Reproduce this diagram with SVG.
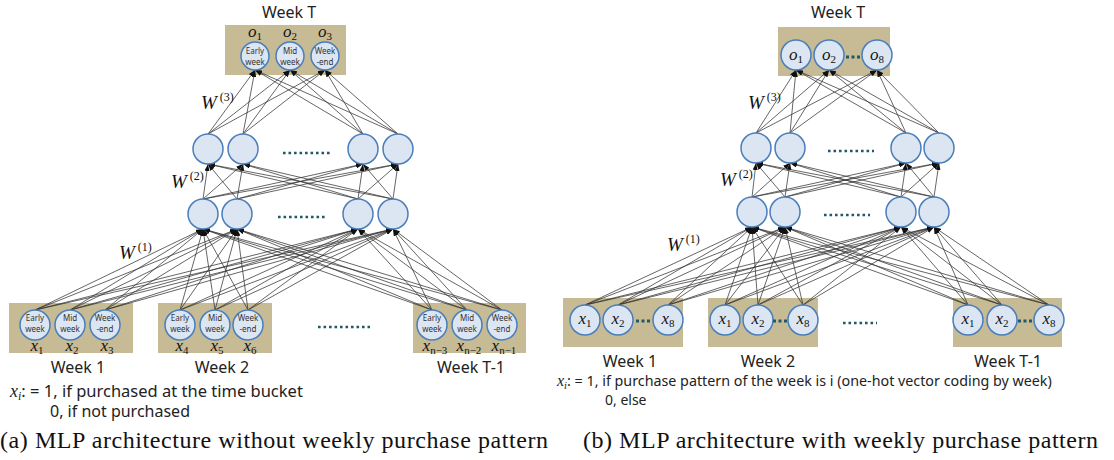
<svg xmlns="http://www.w3.org/2000/svg" width="1114" height="460" viewBox="0 0 1114 460">
  <defs>
    <marker id="ah" markerUnits="userSpaceOnUse" markerWidth="7" markerHeight="5" refX="7" refY="2.5" orient="auto">
      <path d="M0,0 L7,2.5 L0,5 z" fill="#111"/>
    </marker>
    <style>
      .box { fill: #C6BB94; }
      .node { fill: #DCE6F2; stroke: #4A7EBB; stroke-width: 1.5; }
      .edges line { stroke: #333; stroke-width: 0.75; marker-end: url(#ah); }
      .lbl { font-family: "Noto Sans", "Liberation Sans", sans-serif; font-size: 16px; fill: #222; }
      .note { font-family: "Noto Sans", "Liberation Sans", sans-serif; fill: #222; }
      .tiny { font-family: "Noto Sans", "Liberation Sans", sans-serif; font-size: 8px; fill: #333; text-anchor: middle; }
      .math { font-family: "Liberation Serif", "DejaVu Serif", serif; font-style: italic; font-size: 17px; fill: #111; text-anchor: middle; }
      .sub { font-size: 11px; font-style: normal; }
      .w { font-family: "Liberation Serif", "DejaVu Serif", serif; font-style: italic; font-size: 19px; fill: #111; }
      .wsup { font-size: 12px; font-style: normal; }
      .cap { font-family: "Liberation Serif", "DejaVu Serif", serif; font-size: 24px; fill: #111; }
      .dots { stroke: #215968; stroke-width: 2.6; stroke-dasharray: 2.6 2.9; fill: none; }
      .dots3 { stroke: #215968; stroke-width: 3; stroke-dasharray: 3 2.5; fill: none; }
    </style>
  </defs>
  <rect width="1114" height="460" fill="#fff"/>

  <!-- ===== (a) without weekly purchase pattern ===== -->
  <g id="a-boxes">
    <rect class="box" x="225" y="25" width="121" height="50"/>
    <rect class="box" x="9" y="303" width="124" height="50"/>
    <rect class="box" x="158" y="303" width="114" height="50"/>
    <rect class="box" x="413" y="303" width="113" height="50"/>
  </g>

  <g id="a-connectors" class="edges">
    <!-- input layer to hidden layer 1 -->
    <line x1="35" y1="310" x2="203" y2="229"/><line x1="35" y1="310" x2="237" y2="229"/><line x1="35" y1="310" x2="358" y2="229"/><line x1="35" y1="310" x2="393" y2="229"/>
    <line x1="70" y1="310" x2="203" y2="229"/><line x1="70" y1="310" x2="237" y2="229"/><line x1="70" y1="310" x2="358" y2="229"/><line x1="70" y1="310" x2="393" y2="229"/>
    <line x1="105" y1="310" x2="203" y2="229"/><line x1="105" y1="310" x2="237" y2="229"/><line x1="105" y1="310" x2="358" y2="229"/><line x1="105" y1="310" x2="393" y2="229"/>
    <line x1="180" y1="310" x2="203" y2="229"/><line x1="180" y1="310" x2="237" y2="229"/><line x1="180" y1="310" x2="358" y2="229"/><line x1="180" y1="310" x2="393" y2="229"/>
    <line x1="215" y1="310" x2="203" y2="229"/><line x1="215" y1="310" x2="237" y2="229"/><line x1="215" y1="310" x2="358" y2="229"/><line x1="215" y1="310" x2="393" y2="229"/>
    <line x1="248" y1="310" x2="203" y2="229"/><line x1="248" y1="310" x2="237" y2="229"/><line x1="248" y1="310" x2="358" y2="229"/><line x1="248" y1="310" x2="393" y2="229"/>
    <line x1="432" y1="310" x2="203" y2="229"/><line x1="432" y1="310" x2="237" y2="229"/><line x1="432" y1="310" x2="358" y2="229"/><line x1="432" y1="310" x2="393" y2="229"/>
    <line x1="467" y1="310" x2="203" y2="229"/><line x1="467" y1="310" x2="237" y2="229"/><line x1="467" y1="310" x2="358" y2="229"/><line x1="467" y1="310" x2="393" y2="229"/>
    <line x1="502" y1="310" x2="203" y2="229"/><line x1="502" y1="310" x2="237" y2="229"/><line x1="502" y1="310" x2="358" y2="229"/><line x1="502" y1="310" x2="393" y2="229"/>
    <!-- hidden layer 1 to hidden layer 2 -->
    <line x1="203" y1="199" x2="208" y2="164"/><line x1="203" y1="199" x2="243" y2="164"/><line x1="203" y1="199" x2="363" y2="164"/><line x1="203" y1="199" x2="398" y2="164"/>
    <line x1="237" y1="199" x2="208" y2="164"/><line x1="237" y1="199" x2="243" y2="164"/><line x1="237" y1="199" x2="363" y2="164"/><line x1="237" y1="199" x2="398" y2="164"/>
    <line x1="358" y1="199" x2="208" y2="164"/><line x1="358" y1="199" x2="243" y2="164"/><line x1="358" y1="199" x2="363" y2="164"/><line x1="358" y1="199" x2="398" y2="164"/>
    <line x1="393" y1="199" x2="208" y2="164"/><line x1="393" y1="199" x2="243" y2="164"/><line x1="393" y1="199" x2="363" y2="164"/><line x1="393" y1="199" x2="398" y2="164"/>
    <!-- hidden layer 2 to output -->
    <line x1="208" y1="134" x2="255" y2="70"/><line x1="208" y1="134" x2="290" y2="70"/><line x1="208" y1="134" x2="325" y2="70"/>
    <line x1="243" y1="134" x2="255" y2="70"/><line x1="243" y1="134" x2="290" y2="70"/><line x1="243" y1="134" x2="325" y2="70"/>
    <line x1="363" y1="134" x2="255" y2="70"/><line x1="363" y1="134" x2="290" y2="70"/><line x1="363" y1="134" x2="325" y2="70"/>
    <line x1="398" y1="134" x2="255" y2="70"/><line x1="398" y1="134" x2="290" y2="70"/><line x1="398" y1="134" x2="325" y2="70"/>
  </g>

  <g id="a-output">
    <text class="lbl" x="289" y="18" text-anchor="middle">Week T</text>
    <circle class="node" cx="255" cy="56" r="14"/>
    <circle class="node" cx="290" cy="56" r="14"/>
    <circle class="node" cx="325" cy="56" r="14"/>
    <text class="tiny"><tspan x="255" y="53.5">Early</tspan><tspan x="255" y="64.5">week</tspan></text>
    <text class="tiny"><tspan x="290" y="53.5">Mid</tspan><tspan x="290" y="64.5">week</tspan></text>
    <text class="tiny"><tspan x="325" y="53.5">Week</tspan><tspan x="325" y="64.5">-end</tspan></text>
    <text class="math" x="255" y="37">o<tspan class="sub" dy="3">1</tspan></text>
    <text class="math" x="290" y="37">o<tspan class="sub" dy="3">2</tspan></text>
    <text class="math" x="325" y="37">o<tspan class="sub" dy="3">3</tspan></text>
  </g>

  <g id="a-hidden2">
    <circle class="node" cx="208" cy="149" r="15"/>
    <circle class="node" cx="243" cy="149" r="15"/>
    <circle class="node" cx="363" cy="149" r="15"/>
    <circle class="node" cx="398" cy="149" r="15"/>
    <line class="dots" x1="283" y1="153" x2="330" y2="153"/>
  </g>

  <g id="a-hidden1">
    <circle class="node" cx="203" cy="214" r="15"/>
    <circle class="node" cx="237" cy="214" r="15"/>
    <circle class="node" cx="358" cy="214" r="15"/>
    <circle class="node" cx="393" cy="214" r="15"/>
    <line class="dots" x1="278" y1="217" x2="325" y2="217"/>
  </g>

  <g id="a-weights">
    <text class="w" x="201" y="109">W<tspan class="wsup" dy="-8" dx="3">(3)</tspan></text>
    <text class="w" x="171" y="188">W<tspan class="wsup" dy="-8" dx="3">(2)</tspan></text>
    <text class="w" x="119" y="259">W<tspan class="wsup" dy="-8" dx="3">(1)</tspan></text>
  </g>

  <g id="a-week1">
    <circle class="node" cx="35" cy="325" r="15"/>
    <circle class="node" cx="70" cy="325" r="15"/>
    <circle class="node" cx="105" cy="325" r="15"/>
    <text class="tiny"><tspan x="35" y="321">Early</tspan><tspan x="35" y="332">week</tspan></text>
    <text class="tiny"><tspan x="70" y="321">Mid</tspan><tspan x="70" y="332">week</tspan></text>
    <text class="tiny"><tspan x="105" y="321">Week</tspan><tspan x="105" y="332">-end</tspan></text>
    <text class="math" x="37" y="351">x<tspan class="sub" dy="3">1</tspan></text>
    <text class="math" x="72" y="351">x<tspan class="sub" dy="3">2</tspan></text>
    <text class="math" x="107" y="351">x<tspan class="sub" dy="3">3</tspan></text>
    <text class="lbl" x="78" y="373" text-anchor="middle">Week 1</text>
  </g>

  <g id="a-week2">
    <circle class="node" cx="180" cy="325" r="15"/>
    <circle class="node" cx="215" cy="325" r="15"/>
    <circle class="node" cx="248" cy="325" r="15"/>
    <text class="tiny"><tspan x="180" y="321">Early</tspan><tspan x="180" y="332">week</tspan></text>
    <text class="tiny"><tspan x="215" y="321">Mid</tspan><tspan x="215" y="332">week</tspan></text>
    <text class="tiny"><tspan x="248" y="321">Week</tspan><tspan x="248" y="332">-end</tspan></text>
    <text class="math" x="182" y="351">x<tspan class="sub" dy="3">4</tspan></text>
    <text class="math" x="217" y="351">x<tspan class="sub" dy="3">5</tspan></text>
    <text class="math" x="250" y="351">x<tspan class="sub" dy="3">6</tspan></text>
    <text class="lbl" x="222" y="373" text-anchor="middle">Week 2</text>
  </g>

  <line id="a-gap" class="dots" x1="318" y1="327" x2="370" y2="327"/>

  <g id="a-weekT1">
    <circle class="node" cx="432" cy="325" r="15"/>
    <circle class="node" cx="467" cy="325" r="15"/>
    <circle class="node" cx="502" cy="325" r="15"/>
    <text class="tiny"><tspan x="432" y="321">Early</tspan><tspan x="432" y="332">week</tspan></text>
    <text class="tiny"><tspan x="467" y="321">Mid</tspan><tspan x="467" y="332">week</tspan></text>
    <text class="tiny"><tspan x="502" y="321">Week</tspan><tspan x="502" y="332">-end</tspan></text>
    <text class="math" x="435" y="351">x<tspan class="sub" dy="3">n−3</tspan></text>
    <text class="math" x="469" y="351">x<tspan class="sub" dy="3">n−2</tspan></text>
    <text class="math" x="504" y="351">x<tspan class="sub" dy="3">n−1</tspan></text>
    <text class="lbl" x="471" y="373" text-anchor="middle">Week T-1</text>
  </g>

  <g id="a-note">
    <text class="note" x="10" y="397" font-size="16.5"><tspan font-family="Liberation Serif, serif" font-style="italic" font-size="18">x</tspan><tspan font-family="Liberation Serif, serif" font-style="italic" font-size="12" dy="3">i</tspan><tspan dy="-3">: = 1, if purchased at the time bucket</tspan></text>
    <text class="note" x="50" y="417" font-size="16">0, if not purchased</text>
  </g>

  <text id="a-caption" class="cap" x="0" y="448" textLength="548" lengthAdjust="spacing">(a) MLP architecture without weekly purchase pattern</text>

  <!-- ===== (b) with weekly purchase pattern ===== -->
  <g id="b-boxes">
    <rect class="box" x="778" y="27" width="112" height="49"/>
    <rect class="box" x="563" y="298" width="120" height="49"/>
    <rect class="box" x="708" y="298" width="110" height="49"/>
    <rect class="box" x="953" y="298" width="109" height="49"/>
  </g>

  <g id="b-connectors" class="edges">
    <!-- input layer to hidden layer 1 -->
    <line x1="585" y1="305" x2="752" y2="227"/><line x1="585" y1="305" x2="785" y2="227"/><line x1="585" y1="305" x2="901" y2="227"/><line x1="585" y1="305" x2="934" y2="227"/>
    <line x1="618" y1="305" x2="752" y2="227"/><line x1="618" y1="305" x2="785" y2="227"/><line x1="618" y1="305" x2="901" y2="227"/><line x1="618" y1="305" x2="934" y2="227"/>
    <line x1="668" y1="305" x2="752" y2="227"/><line x1="668" y1="305" x2="785" y2="227"/><line x1="668" y1="305" x2="901" y2="227"/><line x1="668" y1="305" x2="934" y2="227"/>
    <line x1="725" y1="305" x2="752" y2="227"/><line x1="725" y1="305" x2="785" y2="227"/><line x1="725" y1="305" x2="901" y2="227"/><line x1="725" y1="305" x2="934" y2="227"/>
    <line x1="758" y1="305" x2="752" y2="227"/><line x1="758" y1="305" x2="785" y2="227"/><line x1="758" y1="305" x2="901" y2="227"/><line x1="758" y1="305" x2="934" y2="227"/>
    <line x1="803" y1="305" x2="752" y2="227"/><line x1="803" y1="305" x2="785" y2="227"/><line x1="803" y1="305" x2="901" y2="227"/><line x1="803" y1="305" x2="934" y2="227"/>
    <line x1="968" y1="305" x2="752" y2="227"/><line x1="968" y1="305" x2="785" y2="227"/><line x1="968" y1="305" x2="901" y2="227"/><line x1="968" y1="305" x2="934" y2="227"/>
    <line x1="1002" y1="305" x2="752" y2="227"/><line x1="1002" y1="305" x2="785" y2="227"/><line x1="1002" y1="305" x2="901" y2="227"/><line x1="1002" y1="305" x2="934" y2="227"/>
    <line x1="1049" y1="305" x2="752" y2="227"/><line x1="1049" y1="305" x2="785" y2="227"/><line x1="1049" y1="305" x2="901" y2="227"/><line x1="1049" y1="305" x2="934" y2="227"/>
    <!-- hidden layer 1 to hidden layer 2 -->
    <line x1="752" y1="197" x2="756" y2="163"/><line x1="752" y1="197" x2="790" y2="163"/><line x1="752" y1="197" x2="906" y2="163"/><line x1="752" y1="197" x2="939" y2="163"/>
    <line x1="785" y1="197" x2="756" y2="163"/><line x1="785" y1="197" x2="790" y2="163"/><line x1="785" y1="197" x2="906" y2="163"/><line x1="785" y1="197" x2="939" y2="163"/>
    <line x1="901" y1="197" x2="756" y2="163"/><line x1="901" y1="197" x2="790" y2="163"/><line x1="901" y1="197" x2="906" y2="163"/><line x1="901" y1="197" x2="939" y2="163"/>
    <line x1="934" y1="197" x2="756" y2="163"/><line x1="934" y1="197" x2="790" y2="163"/><line x1="934" y1="197" x2="906" y2="163"/><line x1="934" y1="197" x2="939" y2="163"/>
    <!-- hidden layer 2 to output -->
    <line x1="756" y1="133" x2="796" y2="70"/><line x1="756" y1="133" x2="829" y2="70"/><line x1="756" y1="133" x2="877" y2="70"/>
    <line x1="790" y1="133" x2="796" y2="70"/><line x1="790" y1="133" x2="829" y2="70"/><line x1="790" y1="133" x2="877" y2="70"/>
    <line x1="906" y1="133" x2="796" y2="70"/><line x1="906" y1="133" x2="829" y2="70"/><line x1="906" y1="133" x2="877" y2="70"/>
    <line x1="939" y1="133" x2="796" y2="70"/><line x1="939" y1="133" x2="829" y2="70"/><line x1="939" y1="133" x2="877" y2="70"/>
  </g>

  <g id="b-output">
    <text class="lbl" x="838" y="18" text-anchor="middle">Week T</text>
    <circle class="node" cx="796" cy="55" r="15"/>
    <circle class="node" cx="829" cy="55" r="15"/>
    <circle class="node" cx="877" cy="55" r="15"/>
    <line class="dots3" x1="846" y1="57" x2="861" y2="57"/>
    <text class="math" x="796" y="60">o<tspan class="sub" dy="3">1</tspan></text>
    <text class="math" x="829" y="60">o<tspan class="sub" dy="3">2</tspan></text>
    <text class="math" x="877" y="60">o<tspan class="sub" dy="3">8</tspan></text>
  </g>

  <g id="b-hidden2">
    <circle class="node" cx="756" cy="148" r="15"/>
    <circle class="node" cx="790" cy="148" r="15"/>
    <circle class="node" cx="906" cy="148" r="15"/>
    <circle class="node" cx="939" cy="148" r="15"/>
    <line class="dots" x1="828" y1="151" x2="874" y2="151"/>
  </g>

  <g id="b-hidden1">
    <circle class="node" cx="752" cy="212" r="15"/>
    <circle class="node" cx="785" cy="212" r="15"/>
    <circle class="node" cx="901" cy="212" r="15"/>
    <circle class="node" cx="934" cy="212" r="15"/>
    <line class="dots" x1="824" y1="215" x2="870" y2="215"/>
  </g>

  <g id="b-weights">
    <text class="w" x="748" y="109">W<tspan class="wsup" dy="-8" dx="3">(3)</tspan></text>
    <text class="w" x="720" y="186">W<tspan class="wsup" dy="-8" dx="3">(2)</tspan></text>
    <text class="w" x="667" y="251">W<tspan class="wsup" dy="-8" dx="3">(1)</tspan></text>
  </g>

  <g id="b-week1">
    <circle class="node" cx="585" cy="320" r="15"/>
    <circle class="node" cx="618" cy="320" r="15"/>
    <circle class="node" cx="668" cy="320" r="15"/>
    <line class="dots3" x1="636" y1="321" x2="652" y2="321"/>
    <text class="math" x="585" y="324">x<tspan class="sub" dy="3">1</tspan></text>
    <text class="math" x="618" y="324">x<tspan class="sub" dy="3">2</tspan></text>
    <text class="math" x="668" y="324">x<tspan class="sub" dy="3">8</tspan></text>
    <text class="lbl" x="630" y="367" text-anchor="middle">Week 1</text>
  </g>

  <g id="b-week2">
    <circle class="node" cx="725" cy="320" r="15"/>
    <circle class="node" cx="758" cy="320" r="15"/>
    <circle class="node" cx="803" cy="320" r="15"/>
    <line class="dots3" x1="773" y1="321" x2="788" y2="321"/>
    <text class="math" x="725" y="324">x<tspan class="sub" dy="3">1</tspan></text>
    <text class="math" x="758" y="324">x<tspan class="sub" dy="3">2</tspan></text>
    <text class="math" x="803" y="324">x<tspan class="sub" dy="3">8</tspan></text>
    <text class="lbl" x="768" y="367" text-anchor="middle">Week 2</text>
  </g>

  <line id="b-gap" class="dots" x1="843" y1="323" x2="877" y2="323"/>

  <g id="b-weekT1">
    <circle class="node" cx="968" cy="320" r="15"/>
    <circle class="node" cx="1002" cy="320" r="15"/>
    <circle class="node" cx="1049" cy="320" r="15"/>
    <line class="dots3" x1="1018" y1="321" x2="1034" y2="321"/>
    <text class="math" x="968" y="324">x<tspan class="sub" dy="3">1</tspan></text>
    <text class="math" x="1002" y="324">x<tspan class="sub" dy="3">2</tspan></text>
    <text class="math" x="1049" y="324">x<tspan class="sub" dy="3">8</tspan></text>
    <text class="lbl" x="1008" y="367" text-anchor="middle">Week T-1</text>
  </g>

  <g id="b-note">
    <text class="note" x="557" y="386" font-size="14.3"><tspan font-family="Liberation Serif, serif" font-style="italic" font-size="16">x</tspan><tspan font-family="Liberation Serif, serif" font-style="italic" font-size="10.5" dy="3">i</tspan><tspan dy="-3">: = 1, if purchase pattern of the week is i (one-hot vector coding by week)</tspan></text>
    <text class="note" x="605" y="405" font-size="14">0, else</text>
  </g>

  <text id="b-caption" class="cap" x="583" y="448" textLength="515" lengthAdjust="spacing">(b) MLP architecture with weekly purchase pattern</text>
</svg>
